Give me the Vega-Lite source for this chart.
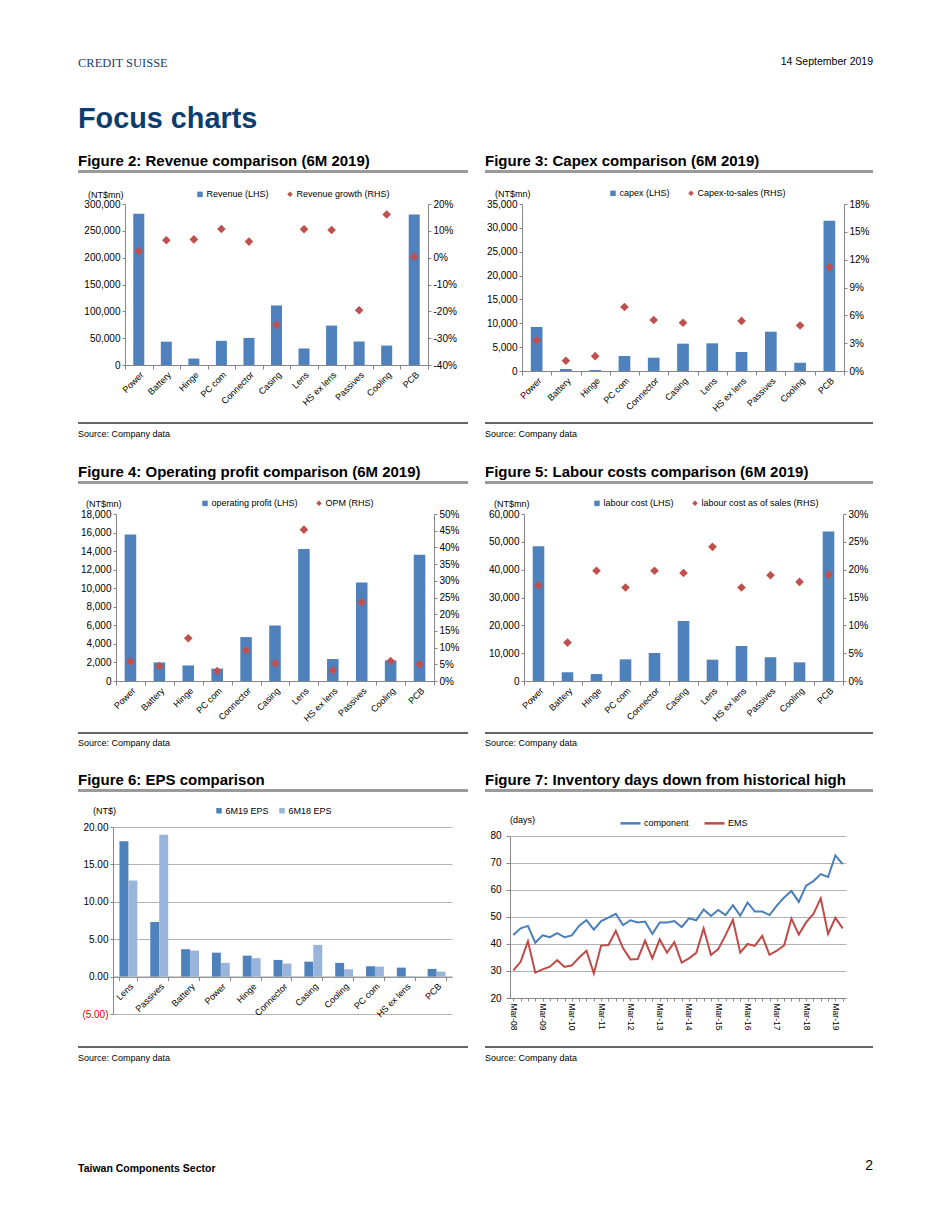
{
  "$schema": "https://vega.github.io/schema/vega-lite/v6.json",
  "background": "white",
  "padding": {"left": 78, "top": 0, "right": 0, "bottom": 0},
  "columns": 5,
  "align": "each",
  "bounds": "flush",
  "spacing": 0,
  "resolve": {"scale": {"color": "independent"}, "legend": {"color": "independent"}},
  "datasets": {
    "none": [],
    "comp": [
      {"cat": "Power", "rev": 282000, "revg": 0.025, "capex": 9220, "capexs": 0.033, "op": 15800, "opm": 0.058, "lab": 48400, "labs": 0.172},
      {"cat": "Battery", "rev": 43500, "revg": 0.065, "capex": 420, "capexs": 0.011, "op": 2000, "opm": 0.045, "lab": 3100, "labs": 0.069},
      {"cat": "Hinge", "rev": 12000, "revg": 0.068, "capex": 200, "capexs": 0.016, "op": 1680, "opm": 0.128, "lab": 2500, "labs": 0.198},
      {"cat": "PC com", "rev": 45000, "revg": 0.107, "capex": 3140, "capexs": 0.069, "op": 1330, "opm": 0.030, "lab": 7780, "labs": 0.168},
      {"cat": "Connector", "rev": 50500, "revg": 0.060, "capex": 2790, "capexs": 0.055, "op": 4730, "opm": 0.092, "lab": 10060, "labs": 0.198},
      {"cat": "Casing", "rev": 111000, "revg": -0.250, "capex": 5730, "capexs": 0.052, "op": 5990, "opm": 0.053, "lab": 21560, "labs": 0.194},
      {"cat": "Lens", "rev": 30800, "revg": 0.106, "capex": 5800, "capexs": null, "op": 14230, "opm": 0.453, "lab": 7660, "labs": 0.241},
      {"cat": "HS ex lens", "rev": 73500, "revg": 0.103, "capex": 3980, "capexs": 0.054, "op": 2370, "opm": 0.032, "lab": 12570, "labs": 0.168},
      {"cat": "Passives", "rev": 43800, "revg": -0.196, "capex": 8240, "capexs": null, "op": 10610, "opm": 0.236, "lab": 8500, "labs": 0.190},
      {"cat": "Cooling", "rev": 36200, "revg": 0.161, "capex": 1750, "capexs": 0.049, "op": 2220, "opm": 0.060, "lab": 6710, "labs": 0.178},
      {"cat": "PCB", "rev": 280500, "revg": 0.004, "capex": 31500, "capexs": 0.112, "op": 13620, "opm": 0.050, "lab": 53700, "labs": 0.191}
    ],
    "eps": [
      {"cat": "Lens", "s": "6M19 EPS", "v": 18.1}, {"cat": "Lens", "s": "6M18 EPS", "v": 12.85},
      {"cat": "Passives", "s": "6M19 EPS", "v": 7.3}, {"cat": "Passives", "s": "6M18 EPS", "v": 18.95},
      {"cat": "Battery", "s": "6M19 EPS", "v": 3.66}, {"cat": "Battery", "s": "6M18 EPS", "v": 3.48},
      {"cat": "Power", "s": "6M19 EPS", "v": 3.2}, {"cat": "Power", "s": "6M18 EPS", "v": 1.83},
      {"cat": "Hinge", "s": "6M19 EPS", "v": 2.8}, {"cat": "Hinge", "s": "6M18 EPS", "v": 2.46},
      {"cat": "Connector", "s": "6M19 EPS", "v": 2.23}, {"cat": "Connector", "s": "6M18 EPS", "v": 1.74},
      {"cat": "Casing", "s": "6M19 EPS", "v": 2.0}, {"cat": "Casing", "s": "6M18 EPS", "v": 4.24},
      {"cat": "Cooling", "s": "6M19 EPS", "v": 1.83}, {"cat": "Cooling", "s": "6M18 EPS", "v": 0.98},
      {"cat": "PC com", "s": "6M19 EPS", "v": 1.38}, {"cat": "PC com", "s": "6M18 EPS", "v": 1.34},
      {"cat": "HS ex lens", "s": "6M19 EPS", "v": 1.2}, {"cat": "HS ex lens", "s": "6M18 EPS", "v": -0.08},
      {"cat": "PCB", "s": "6M19 EPS", "v": 1.03}, {"cat": "PCB", "s": "6M18 EPS", "v": 0.67}
    ],
    "inv": [
      {"q": "Mar-08", "comp": 43.3, "ems": 30.2}, {"q": "Jun-08", "comp": 45.8, "ems": 33.4},
      {"q": "Sep-08", "comp": 46.7, "ems": 41.0}, {"q": "Dec-08", "comp": 40.5, "ems": 29.4},
      {"q": "Mar-09", "comp": 43.2, "ems": 30.6}, {"q": "Jun-09", "comp": 42.5, "ems": 31.6},
      {"q": "Sep-09", "comp": 44.0, "ems": 34.0}, {"q": "Dec-09", "comp": 42.5, "ems": 31.5},
      {"q": "Mar-10", "comp": 43.2, "ems": 32.1}, {"q": "Jun-10", "comp": 46.8, "ems": 35.0},
      {"q": "Sep-10", "comp": 48.8, "ems": 37.5}, {"q": "Dec-10", "comp": 45.3, "ems": 29.1},
      {"q": "Mar-11", "comp": 48.5, "ems": 39.4}, {"q": "Jun-11", "comp": 49.8, "ems": 39.6},
      {"q": "Sep-11", "comp": 51.2, "ems": 44.9}, {"q": "Dec-11", "comp": 47.0, "ems": 38.4},
      {"q": "Mar-12", "comp": 48.8, "ems": 34.3}, {"q": "Jun-12", "comp": 48.0, "ems": 34.4},
      {"q": "Sep-12", "comp": 48.3, "ems": 41.2}, {"q": "Dec-12", "comp": 43.8, "ems": 34.7},
      {"q": "Mar-13", "comp": 48.0, "ems": 41.7}, {"q": "Jun-13", "comp": 48.0, "ems": 36.8},
      {"q": "Sep-13", "comp": 48.5, "ems": 40.7}, {"q": "Dec-13", "comp": 46.3, "ems": 33.1},
      {"q": "Mar-14", "comp": 49.5, "ems": 34.7}, {"q": "Jun-14", "comp": 48.8, "ems": 36.7},
      {"q": "Sep-14", "comp": 52.8, "ems": 45.8}, {"q": "Dec-14", "comp": 50.4, "ems": 35.9},
      {"q": "Mar-15", "comp": 52.6, "ems": 38.1}, {"q": "Jun-15", "comp": 50.7, "ems": 43.3},
      {"q": "Sep-15", "comp": 54.4, "ems": 49.0}, {"q": "Dec-15", "comp": 50.5, "ems": 36.8},
      {"q": "Mar-16", "comp": 55.4, "ems": 40.0}, {"q": "Jun-16", "comp": 52.0, "ems": 39.3},
      {"q": "Sep-16", "comp": 52.0, "ems": 43.0}, {"q": "Dec-16", "comp": 50.7, "ems": 36.0},
      {"q": "Mar-17", "comp": 54.2, "ems": 37.5}, {"q": "Jun-17", "comp": 57.2, "ems": 39.5},
      {"q": "Sep-17", "comp": 59.6, "ems": 49.4}, {"q": "Dec-17", "comp": 55.6, "ems": 43.5},
      {"q": "Mar-18", "comp": 61.6, "ems": 48.0}, {"q": "Jun-18", "comp": 63.3, "ems": 51.1},
      {"q": "Sep-18", "comp": 65.9, "ems": 56.9}, {"q": "Dec-18", "comp": 64.8, "ems": 43.7},
      {"q": "Mar-19", "comp": 72.8, "ems": 49.7}, {"q": "Jun-19", "comp": 69.6, "ems": 45.8}
    ]
  },
  "concat": [
    {"width": 35, "height": 57, "data": {"name": "none"}, "mark": "point",
     "title": {"text": "CREDIT SUISSE", "orient": "bottom", "anchor": "start", "font": "Liberation Serif", "fontSize": 12.5, "fontWeight": "normal", "color": "#1c3e6e", "offset": 0}},
    {"width": 355, "height": 57, "data": {"name": "none"}, "mark": "point"},
    {"width": 17, "height": 57, "data": {"name": "none"}, "mark": "point"},
    {"width": 25, "height": 57, "data": {"name": "none"}, "mark": "point"},
    {"width": 363, "height": 57, "data": {"name": "none"}, "mark": "point",
     "title": {"text": "14 September 2019", "orient": "bottom", "anchor": "end", "fontSize": 10.5, "fontWeight": "normal", "color": "#000", "offset": 0}},

    {"width": 35, "height": 48, "data": {"name": "none"}, "mark": "point",
     "title": {"text": "Focus charts", "orient": "bottom", "anchor": "start", "fontSize": 28.8, "fontWeight": "bold", "color": "#0c3d6f", "offset": 0}},
    {"width": 355, "height": 48, "data": {"name": "none"}, "mark": "point"},
    {"width": 17, "height": 48, "data": {"name": "none"}, "mark": "point"},
    {"width": 25, "height": 48, "data": {"name": "none"}, "mark": "point"},
    {"width": 363, "height": 48, "data": {"name": "none"}, "mark": "point"},

    {"width": 35, "height": 65, "data": {"name": "none"}, "mark": "point"},
    {"width": 355, "height": 65, "data": {"name": "none"}, "mark": "point"},
    {"width": 17, "height": 65, "data": {"name": "none"}, "mark": "point"},
    {"width": 25, "height": 65, "data": {"name": "none"}, "mark": "point"},
    {"width": 363, "height": 65, "data": {"name": "none"}, "mark": "point"},

    {"width": 35, "height": 3, "data": {"name": "none"}, "mark": "point", "view": {"fill": "#9a9a9a", "stroke": null},
     "title": {"text": "Figure 2: Revenue comparison (6M 2019)", "anchor": "start", "fontSize": 15, "fontWeight": "bold", "color": "#000", "offset": 0.9}},
    {"width": 355, "height": 3, "data": {"name": "none"}, "mark": "point", "view": {"fill": "#9a9a9a", "stroke": null}},
    {"width": 17, "height": 3, "data": {"name": "none"}, "mark": "point"},
    {"width": 25, "height": 3, "data": {"name": "none"}, "mark": "point", "view": {"fill": "#9a9a9a", "stroke": null},
     "title": {"text": "Figure 3: Capex comparison (6M 2019)", "anchor": "start", "fontSize": 15, "fontWeight": "bold", "color": "#000", "offset": 0.9}},
    {"width": 363, "height": 3, "data": {"name": "none"}, "mark": "point", "view": {"fill": "#9a9a9a", "stroke": null}},

    {"width": 35, "height": 31, "data": {"name": "none"}, "mark": "point"},
    {"width": 355, "height": 31, "data": {"name": "none"}, "mark": "point"},
    {"width": 17, "height": 31, "data": {"name": "none"}, "mark": "point"},
    {"width": 25, "height": 31, "data": {"name": "none"}, "mark": "point"},
    {"width": 363, "height": 31, "data": {"name": "none"}, "mark": "point"},

    {"width": 35, "height": 167, "data": {"name": "none"}, "mark": "point"},
    {
      "width": 315, "height": 161,
      "data": {"name": "comp"},
      "encoding": {
        "x": {"field": "cat", "type": "nominal", "sort": null, "title": null,
              "scale": {"paddingInner": 0, "paddingOuter": 0, "range": [12, 315]},
              "axis": {"labelAngle": -45, "tickBand": "extent", "labelFontSize": 9, "tickSize": 4, "labelPadding": 1}}
      },
      "layer": [
        {"mark": {"type": "bar", "width": {"band": 0.4}},
         "encoding": {
           "y": {"field": "rev", "type": "quantitative", "title": null, "scale": {"domain": [0, 300000], "nice": false},
                 "axis": {"values": [0, 50000, 100000, 150000, 200000, 250000, 300000], "format": ",.0f", "offset": -12}},
           "color": {"datum": "Revenue (LHS)", "type": "nominal",
                     "scale": {"domain": ["Revenue (LHS)", "Revenue growth (RHS)"], "range": ["#4f81bd", "#c0504d"]},
                     "legend": {"orient": "none", "legendX": -25, "legendY": -14.4, "padding": 0, "direction": "horizontal", "columns": 2,
                                "title": "(NT$mn)", "titleOrient": "left", "titlePadding": 71.5, "titleFontSize": 9, "titleFontWeight": "normal", "titleColor": "#000",
                                "labelFontSize": 9, "labelColor": "#000", "labelOffset": 2, "columnPadding": 16,
                                "symbolSize": 30, "symbolOpacity": 1, "symbolStrokeWidth": 0,
                                "encode": {"symbols": {"update": {"shape": {"signal": "indexof(datum.value, 'RHS') >= 0 ? 'diamond' : 'square'"}}}}}}
         }},
        {"mark": {"type": "point", "shape": "diamond", "filled": true, "size": 75, "opacity": 1},
         "encoding": {
           "y": {"field": "revg", "type": "quantitative", "title": null, "scale": {"domain": [-0.4, 0.2], "nice": false},
                 "axis": {"orient": "right", "values": [-0.4, -0.3, -0.2, -0.1, 0, 0.1, 0.2], "format": ".0%", "labelExpr": "replace(datum.label, '\u2212', '-')"}},
           "color": {"datum": "Revenue growth (RHS)", "type": "nominal"}
         }}
      ],
      "resolve": {"scale": {"y": "independent"}}
    },
    {"width": 17, "height": 167, "data": {"name": "none"}, "mark": "point"},
    {"width": 25, "height": 167, "data": {"name": "none"}, "mark": "point"},
    {
      "width": 334, "height": 167,
      "data": {"name": "comp"},
      "encoding": {
        "x": {"field": "cat", "type": "nominal", "sort": null, "title": null,
              "scale": {"paddingInner": 0, "paddingOuter": 0, "range": [12, 334]},
              "axis": {"labelAngle": -45, "tickBand": "extent", "labelFontSize": 9, "tickSize": 4, "labelPadding": 1}}
      },
      "layer": [
        {"mark": {"type": "bar", "width": {"band": 0.4}},
         "encoding": {
           "y": {"field": "capex", "type": "quantitative", "title": null, "scale": {"domain": [0, 35000], "nice": false},
                 "axis": {"values": [0, 5000, 10000, 15000, 20000, 25000, 30000, 35000], "format": ",.0f", "offset": -12}},
           "color": {"datum": "capex (LHS)", "type": "nominal",
                     "scale": {"domain": ["capex (LHS)", "Capex-to-sales (RHS)"], "range": ["#4f81bd", "#c0504d"]},
                     "legend": {"orient": "none", "legendX": -15, "legendY": -15.4, "padding": 0, "direction": "horizontal", "columns": 2,
                                "title": "(NT$mn)", "titleOrient": "left", "titlePadding": 77.5, "titleFontSize": 9, "titleFontWeight": "normal", "titleColor": "#000",
                                "labelFontSize": 9, "labelColor": "#000", "labelOffset": 2, "columnPadding": 16,
                                "symbolSize": 30, "symbolOpacity": 1, "symbolStrokeWidth": 0,
                                "encode": {"symbols": {"update": {"shape": {"signal": "indexof(datum.value, 'RHS') >= 0 ? 'diamond' : 'square'"}}}}}}
         }},
        {"mark": {"type": "point", "shape": "diamond", "filled": true, "size": 75, "opacity": 1},
         "encoding": {
           "y": {"field": "capexs", "type": "quantitative", "title": null, "scale": {"domain": [0, 0.18], "nice": false},
                 "axis": {"orient": "right", "values": [0, 0.03, 0.06, 0.09, 0.12, 0.15, 0.18], "format": ".0%"}},
           "color": {"datum": "Capex-to-sales (RHS)", "type": "nominal"}
         }}
      ],
      "resolve": {"scale": {"y": "independent"}}
    },

    {"width": 35, "height": 51, "data": {"name": "none"}, "mark": "point"},
    {"width": 355, "height": 51, "data": {"name": "none"}, "mark": "point"},
    {"width": 17, "height": 51, "data": {"name": "none"}, "mark": "point"},
    {"width": 25, "height": 51, "data": {"name": "none"}, "mark": "point"},
    {"width": 363, "height": 51, "data": {"name": "none"}, "mark": "point"},

    {"width": 35, "height": 2, "data": {"name": "none"}, "mark": "point", "view": {"fill": "#666666", "stroke": null},
     "title": {"text": "Source: Company data", "orient": "bottom", "anchor": "start", "fontSize": 9, "fontWeight": "normal", "color": "#000", "offset": 6.4}},
    {"width": 355, "height": 2, "data": {"name": "none"}, "mark": "point", "view": {"fill": "#666666", "stroke": null}},
    {"width": 17, "height": 2, "data": {"name": "none"}, "mark": "point"},
    {"width": 25, "height": 2, "data": {"name": "none"}, "mark": "point", "view": {"fill": "#666666", "stroke": null},
     "title": {"text": "Source: Company data", "orient": "bottom", "anchor": "start", "fontSize": 9, "fontWeight": "normal", "color": "#000", "offset": 6.4}},
    {"width": 363, "height": 2, "data": {"name": "none"}, "mark": "point", "view": {"fill": "#666666", "stroke": null}},

    {"width": 35, "height": 57, "data": {"name": "none"}, "mark": "point"},
    {"width": 355, "height": 57, "data": {"name": "none"}, "mark": "point"},
    {"width": 17, "height": 57, "data": {"name": "none"}, "mark": "point"},
    {"width": 25, "height": 57, "data": {"name": "none"}, "mark": "point"},
    {"width": 363, "height": 57, "data": {"name": "none"}, "mark": "point"},

    {"width": 35, "height": 3, "data": {"name": "none"}, "mark": "point", "view": {"fill": "#9a9a9a", "stroke": null},
     "title": {"text": "Figure 4: Operating profit comparison (6M 2019)", "anchor": "start", "fontSize": 15, "fontWeight": "bold", "color": "#000", "offset": 0.9}},
    {"width": 355, "height": 3, "data": {"name": "none"}, "mark": "point", "view": {"fill": "#9a9a9a", "stroke": null}},
    {"width": 17, "height": 3, "data": {"name": "none"}, "mark": "point"},
    {"width": 25, "height": 3, "data": {"name": "none"}, "mark": "point", "view": {"fill": "#9a9a9a", "stroke": null},
     "title": {"text": "Figure 5: Labour costs comparison (6M 2019)", "anchor": "start", "fontSize": 15, "fontWeight": "bold", "color": "#000", "offset": 0.9}},
    {"width": 363, "height": 3, "data": {"name": "none"}, "mark": "point", "view": {"fill": "#9a9a9a", "stroke": null}},

    {"width": 35, "height": 30, "data": {"name": "none"}, "mark": "point"},
    {"width": 355, "height": 30, "data": {"name": "none"}, "mark": "point"},
    {"width": 17, "height": 30, "data": {"name": "none"}, "mark": "point"},
    {"width": 25, "height": 30, "data": {"name": "none"}, "mark": "point"},
    {"width": 363, "height": 30, "data": {"name": "none"}, "mark": "point"},

    {"width": 35, "height": 167, "data": {"name": "none"}, "mark": "point"},
    {
      "width": 321, "height": 167,
      "data": {"name": "comp"},
      "encoding": {
        "x": {"field": "cat", "type": "nominal", "sort": null, "title": null,
              "scale": {"paddingInner": 0, "paddingOuter": 0, "range": [3, 321]},
              "axis": {"labelAngle": -45, "tickBand": "extent", "labelFontSize": 9, "tickSize": 4, "labelPadding": 1}}
      },
      "layer": [
        {"mark": {"type": "bar", "width": {"band": 0.4}},
         "encoding": {
           "y": {"field": "op", "type": "quantitative", "title": null, "scale": {"domain": [0, 18000], "nice": false},
                 "axis": {"values": [0, 2000, 4000, 6000, 8000, 10000, 12000, 14000, 16000, 18000], "format": ",.0f", "offset": -3}},
           "color": {"datum": "operating profit (LHS)", "type": "nominal",
                     "scale": {"domain": ["operating profit (LHS)", "OPM (RHS)"], "range": ["#4f81bd", "#c0504d"]},
                     "legend": {"orient": "none", "legendX": -27, "legendY": -15.4, "padding": 0, "direction": "horizontal", "columns": 2,
                                "title": "(NT$mn)", "titleOrient": "left", "titlePadding": 78.5, "titleFontSize": 9, "titleFontWeight": "normal", "titleColor": "#000",
                                "labelFontSize": 9, "labelColor": "#000", "labelOffset": 2, "columnPadding": 16,
                                "symbolSize": 30, "symbolOpacity": 1, "symbolStrokeWidth": 0,
                                "encode": {"symbols": {"update": {"shape": {"signal": "indexof(datum.value, 'RHS') >= 0 ? 'diamond' : 'square'"}}}}}}
         }},
        {"mark": {"type": "point", "shape": "diamond", "filled": true, "size": 75, "opacity": 1},
         "encoding": {
           "y": {"field": "opm", "type": "quantitative", "title": null, "scale": {"domain": [0, 0.5], "nice": false},
                 "axis": {"orient": "right", "values": [0, 0.05, 0.1, 0.15, 0.2, 0.25, 0.3, 0.35, 0.4, 0.45, 0.5], "format": ".0%"}},
           "color": {"datum": "OPM (RHS)", "type": "nominal"}
         }}
      ],
      "resolve": {"scale": {"y": "independent"}}
    },
    {"width": 17, "height": 167, "data": {"name": "none"}, "mark": "point"},
    {"width": 25, "height": 167, "data": {"name": "none"}, "mark": "point"},
    {
      "width": 333, "height": 167,
      "data": {"name": "comp"},
      "encoding": {
        "x": {"field": "cat", "type": "nominal", "sort": null, "title": null,
              "scale": {"paddingInner": 0, "paddingOuter": 0, "range": [14, 333]},
              "axis": {"labelAngle": -45, "tickBand": "extent", "labelFontSize": 9, "tickSize": 4, "labelPadding": 1}}
      },
      "layer": [
        {"mark": {"type": "bar", "width": {"band": 0.4}},
         "encoding": {
           "y": {"field": "lab", "type": "quantitative", "title": null, "scale": {"domain": [0, 60000], "nice": false},
                 "axis": {"values": [0, 10000, 20000, 30000, 40000, 50000, 60000], "format": ",.0f", "offset": -14}},
           "color": {"datum": "labour cost (LHS)", "type": "nominal",
                     "scale": {"domain": ["labour cost (LHS)", "labour cost as of sales (RHS)"], "range": ["#4f81bd", "#c0504d"]},
                     "legend": {"orient": "none", "legendX": -16, "legendY": -15.4, "padding": 0, "direction": "horizontal", "columns": 2,
                                "title": "(NT$mn)", "titleOrient": "left", "titlePadding": 62.5, "titleFontSize": 9, "titleFontWeight": "normal", "titleColor": "#000",
                                "labelFontSize": 9, "labelColor": "#000", "labelOffset": 2, "columnPadding": 16,
                                "symbolSize": 30, "symbolOpacity": 1, "symbolStrokeWidth": 0,
                                "encode": {"symbols": {"update": {"shape": {"signal": "indexof(datum.value, 'RHS') >= 0 ? 'diamond' : 'square'"}}}}}}
         }},
        {"mark": {"type": "point", "shape": "diamond", "filled": true, "size": 75, "opacity": 1},
         "encoding": {
           "y": {"field": "labs", "type": "quantitative", "title": null, "scale": {"domain": [0, 0.3], "nice": false},
                 "axis": {"orient": "right", "values": [0, 0.05, 0.1, 0.15, 0.2, 0.25, 0.3], "format": ".0%"}},
           "color": {"datum": "labour cost as of sales (RHS)", "type": "nominal"}
         }}
      ],
      "resolve": {"scale": {"y": "independent"}}
    },

    {"width": 35, "height": 51, "data": {"name": "none"}, "mark": "point"},
    {"width": 355, "height": 51, "data": {"name": "none"}, "mark": "point"},
    {"width": 17, "height": 51, "data": {"name": "none"}, "mark": "point"},
    {"width": 25, "height": 51, "data": {"name": "none"}, "mark": "point"},
    {"width": 363, "height": 51, "data": {"name": "none"}, "mark": "point"},

    {"width": 35, "height": 2, "data": {"name": "none"}, "mark": "point", "view": {"fill": "#666666", "stroke": null},
     "title": {"text": "Source: Company data", "orient": "bottom", "anchor": "start", "fontSize": 9, "fontWeight": "normal", "color": "#000", "offset": 5.4}},
    {"width": 355, "height": 2, "data": {"name": "none"}, "mark": "point", "view": {"fill": "#666666", "stroke": null}},
    {"width": 17, "height": 2, "data": {"name": "none"}, "mark": "point"},
    {"width": 25, "height": 2, "data": {"name": "none"}, "mark": "point", "view": {"fill": "#666666", "stroke": null},
     "title": {"text": "Source: Company data", "orient": "bottom", "anchor": "start", "fontSize": 9, "fontWeight": "normal", "color": "#000", "offset": 5.4}},
    {"width": 363, "height": 2, "data": {"name": "none"}, "mark": "point", "view": {"fill": "#666666", "stroke": null}},

    {"width": 35, "height": 55, "data": {"name": "none"}, "mark": "point"},
    {"width": 355, "height": 55, "data": {"name": "none"}, "mark": "point"},
    {"width": 17, "height": 55, "data": {"name": "none"}, "mark": "point"},
    {"width": 25, "height": 55, "data": {"name": "none"}, "mark": "point"},
    {"width": 363, "height": 55, "data": {"name": "none"}, "mark": "point"},

    {"width": 35, "height": 3, "data": {"name": "none"}, "mark": "point", "view": {"fill": "#9a9a9a", "stroke": null},
     "title": {"text": "Figure 6: EPS comparison", "anchor": "start", "fontSize": 15, "fontWeight": "bold", "color": "#000", "offset": 0.9}},
    {"width": 355, "height": 3, "data": {"name": "none"}, "mark": "point", "view": {"fill": "#9a9a9a", "stroke": null}},
    {"width": 17, "height": 3, "data": {"name": "none"}, "mark": "point"},
    {"width": 25, "height": 3, "data": {"name": "none"}, "mark": "point", "view": {"fill": "#9a9a9a", "stroke": null},
     "title": {"text": "Figure 7: Inventory days down from historical high", "anchor": "start", "fontSize": 15, "fontWeight": "bold", "color": "#000", "offset": 0.9}},
    {"width": 363, "height": 3, "data": {"name": "none"}, "mark": "point", "view": {"fill": "#9a9a9a", "stroke": null}},

    {"width": 35, "height": 35, "data": {"name": "none"}, "mark": "point"},
    {"width": 355, "height": 35, "data": {"name": "none"}, "mark": "point"},
    {"width": 17, "height": 35, "data": {"name": "none"}, "mark": "point"},
    {"width": 25, "height": 35, "data": {"name": "none"}, "mark": "point"},
    {"width": 363, "height": 35, "data": {"name": "none"}, "mark": "point"},

    {"width": 35, "height": 187, "data": {"name": "none"}, "mark": "point"},
    {
      "width": 339, "height": 187,
      "data": {"name": "eps"},
      "mark": {"type": "bar"},
      "encoding": {
        "x": {"field": "cat", "type": "nominal", "sort": null, "title": null,
              "scale": {"paddingInner": 0.42, "paddingOuter": 0.21},
              "axis": {"labelAngle": -45, "tickBand": "extent", "labelFontSize": 9, "tickSize": 4, "labelPadding": 1, "offset": -37.4}},
        "xOffset": {"field": "s", "type": "nominal", "sort": ["6M19 EPS", "6M18 EPS"], "scale": {"paddingInner": 0, "paddingOuter": 0}},
        "y": {"field": "v", "type": "quantitative", "title": null, "scale": {"domain": [-5, 20], "nice": false, "zero": true},
              "axis": {"values": [-5, 0, 5, 10, 15, 20], "grid": true, "gridColor": "#b3b3b3", "labelOverlap": false,
                       "labelExpr": "datum.value < 0 ? '(' + format(-datum.value, '.2f') + ')' : format(datum.value, '.2f')",
                       "labelColor": {"condition": {"test": "datum.value < 0", "value": "#e00000"}, "value": "#000"}}},
        "color": {"field": "s", "type": "nominal",
                  "scale": {"domain": ["6M19 EPS", "6M18 EPS"], "range": ["#4f81bd", "#9ab5db"]},
                  "legend": {"orient": "none", "legendX": -20, "legendY": -21, "padding": 0, "direction": "horizontal", "columns": 2,
                             "title": "(NT$)", "titleOrient": "left", "titlePadding": 98.5, "titleFontSize": 9, "titleFontWeight": "normal", "titleColor": "#000",
                             "labelFontSize": 9, "labelColor": "#000", "labelOffset": 2, "columnPadding": 8,
                             "symbolType": "square", "symbolSize": 30, "symbolOpacity": 1, "symbolStrokeWidth": 0}}
      }
    },
    {"width": 17, "height": 187, "data": {"name": "none"}, "mark": "point"},
    {"width": 25, "height": 187, "data": {"name": "none"}, "mark": "point"},
    {
      "width": 336, "height": 171,
      "data": {"name": "inv"},
      "encoding": {
        "x": {"field": "q", "type": "ordinal", "sort": null, "title": null,
              "scale": {"type": "point", "padding": 0.45},
              "axis": {"labelAngle": 90, "labelFontSize": 8.5, "tickSize": 3, "labelPadding": 2, "labelOverlap": false,
                       "labelExpr": "indexof(datum.label, 'Mar') === 0 ? datum.label : ''"}}
      },
      "layer": [
        {"mark": {"type": "line", "strokeWidth": 2},
         "encoding": {
           "y": {"field": "comp", "type": "quantitative", "title": null, "scale": {"domain": [20, 83.333], "nice": false, "zero": false},
                 "axis": {"values": [20, 30, 40, 50, 60, 70, 80], "grid": true, "gridColor": "#b3b3b3", "tickSize": 4, "labelPadding": 5, "labelOverlap": false, "domainDash": [162, 60]}},
           "color": {"datum": "component", "type": "nominal",
                     "scale": {"domain": ["component", "EMS"], "range": ["#4a7ebb", "#be4b48"]},
                     "legend": {"orient": "none", "legendX": 0, "legendY": -15.4, "padding": 0, "direction": "horizontal", "columns": 2,
                                "title": "(days)", "titleOrient": "left", "titlePadding": 83, "titleFontSize": 9, "titleFontWeight": "normal", "titleColor": "#000",
                                "labelFontSize": 9, "labelColor": "#000", "labelOffset": 2, "columnPadding": 10,
                                "symbolType": "stroke", "symbolSize": 400, "symbolStrokeWidth": 2.5, "symbolOpacity": 1}}
         }},
        {"mark": {"type": "line", "strokeWidth": 2},
         "encoding": {
           "y": {"field": "ems", "type": "quantitative", "title": null,
                 "axis": {"values": [20, 30, 40, 50, 60, 70, 80], "grid": true, "gridColor": "#b3b3b3", "tickSize": 4, "labelPadding": 5, "labelOverlap": false, "domainDash": [162, 60]}},
           "color": {"datum": "EMS", "type": "nominal"}
         }}
      ]
    },

    {"width": 35, "height": 32, "data": {"name": "none"}, "mark": "point"},
    {"width": 355, "height": 32, "data": {"name": "none"}, "mark": "point"},
    {"width": 17, "height": 32, "data": {"name": "none"}, "mark": "point"},
    {"width": 25, "height": 32, "data": {"name": "none"}, "mark": "point"},
    {"width": 363, "height": 32, "data": {"name": "none"}, "mark": "point"},

    {"width": 35, "height": 2, "data": {"name": "none"}, "mark": "point", "view": {"fill": "#666666", "stroke": null},
     "title": {"text": "Source: Company data", "orient": "bottom", "anchor": "start", "fontSize": 9, "fontWeight": "normal", "color": "#000", "offset": 5.8}},
    {"width": 355, "height": 2, "data": {"name": "none"}, "mark": "point", "view": {"fill": "#666666", "stroke": null}},
    {"width": 17, "height": 2, "data": {"name": "none"}, "mark": "point"},
    {"width": 25, "height": 2, "data": {"name": "none"}, "mark": "point", "view": {"fill": "#666666", "stroke": null},
     "title": {"text": "Source: Company data", "orient": "bottom", "anchor": "start", "fontSize": 9, "fontWeight": "normal", "color": "#000", "offset": 5.8}},
    {"width": 363, "height": 2, "data": {"name": "none"}, "mark": "point", "view": {"fill": "#666666", "stroke": null}},

    {"width": 35, "height": 111, "data": {"name": "none"}, "mark": "point",
     "title": {"text": "Taiwan Components Sector", "orient": "bottom", "anchor": "start", "fontSize": 10.5, "fontWeight": "bold", "color": "#000", "offset": 4.5}},
    {"width": 355, "height": 111, "data": {"name": "none"}, "mark": "point"},
    {"width": 17, "height": 111, "data": {"name": "none"}, "mark": "point"},
    {"width": 25, "height": 111, "data": {"name": "none"}, "mark": "point"},
    {"width": 363, "height": 111, "data": {"name": "none"}, "mark": "point",
     "title": {"text": "2", "orient": "bottom", "anchor": "end", "fontSize": 14, "fontWeight": "normal", "color": "#000", "offset": 0}}
  ],
  "config": {
    "font": "Liberation Sans",
    "view": {"stroke": null},
    "axis": {"labelFont": "Liberation Sans", "labelFontSize": 10, "labelColor": "#000", "domainColor": "#868686", "tickColor": "#868686", "tickSize": 3, "labelPadding": 2, "grid": false},
    "legend": {"labelFont": "Liberation Sans", "titleFont": "Liberation Sans"},
    "title": {"font": "Liberation Sans", "color": "#000"}
  }
}
